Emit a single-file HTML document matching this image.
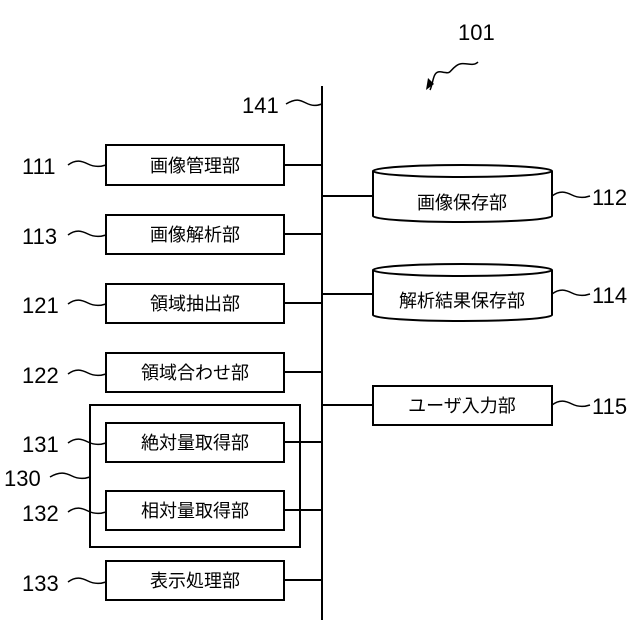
<!DOCTYPE html>
<html><head><meta charset="utf-8"><style>body{margin:0;background:#fff}svg{display:block}</style></head><body>
<svg width="640" height="640" viewBox="0 0 640 640" xmlns="http://www.w3.org/2000/svg">
<g fill="none" stroke="#000" stroke-width="2">
<line x1="322" y1="86" x2="322" y2="620"/>
<rect x="106" y="145" width="178" height="40"/>
<rect x="106" y="215" width="178" height="39"/>
<rect x="106" y="284" width="178" height="39"/>
<rect x="106" y="353" width="178" height="39"/>
<rect x="90" y="405" width="210" height="142"/>
<rect x="106" y="423" width="178" height="39"/>
<rect x="106" y="491" width="178" height="39"/>
<rect x="106" y="561" width="178" height="39"/>
<line x1="284" y1="165" x2="322" y2="165"/>
<line x1="284" y1="234" x2="322" y2="234"/>
<line x1="284" y1="303" x2="322" y2="303"/>
<line x1="284" y1="372" x2="322" y2="372"/>
<line x1="284" y1="442" x2="322" y2="442"/>
<line x1="284" y1="510" x2="322" y2="510"/>
<line x1="284" y1="580" x2="322" y2="580"/>
<line x1="322" y1="196" x2="373" y2="196"/>
<line x1="322" y1="294" x2="373" y2="294"/>
<line x1="322" y1="405" x2="373" y2="405"/>
<path d="M373 171 V216 A89.5 6 0 0 0 552 216 V171"/>
<ellipse cx="462.5" cy="171" rx="89.5" ry="6"/>
<path d="M373 270 V315 A89.5 6 0 0 0 552 315 V270"/>
<ellipse cx="462.5" cy="270" rx="89.5" ry="6"/>
<rect x="373" y="386" width="179" height="39"/>
<g stroke-width="1.5">
<path d="M68 165 c8 -6 14 -4 20 -1 s12 3 18 1"/>
<path d="M68 235 c8 -6 14 -4 20 -1 s12 3 18 1"/>
<path d="M68 304 c8 -6 14 -4 20 -1 s12 3 18 1"/>
<path d="M68 374 c8 -6 14 -4 20 -1 s12 3 18 1"/>
<path d="M68 443 c8 -6 14 -4 20 -1 s12 3 18 1"/>
<path d="M68 512 c8 -6 14 -4 20 -1 s12 3 18 1"/>
<path d="M68 582 c8 -6 14 -4 20 -1 s12 3 18 1"/>
<path d="M50 477 c10 -6 16 -4 22 -1 s12 3 18 1"/>
<path d="M286 104 c10 -6 14 -4 20 -1 s10 3 16 1"/>
<path d="M552 196 c8 -6 14 -4 20 -1 s12 3 18 1"/>
<path d="M552 294 c8 -6 14 -4 20 -1 s12 3 18 1"/>
<path d="M552 405 c8 -6 14 -4 20 -1 s12 3 18 1"/>
<path d="M478 62 c-6 6 -14 -2 -22 4 s-4 8 -14 6 s-8 10 -12 18"/>
</g>
</g>
<path d="M426 90 l2 -12 l6 6 z" fill="#000"/>
<g font-family="Liberation Sans, sans-serif" font-size="22" fill="#000">
<text x="458" y="40">101</text>
<text x="242" y="113">141</text>
<text x="22" y="174">111</text>
<text x="22" y="244">113</text>
<text x="22" y="313">121</text>
<text x="22" y="383">122</text>
<text x="22" y="452">131</text>
<text x="4" y="486">130</text>
<text x="22" y="521">132</text>
<text x="22" y="591">133</text>
<text x="592" y="205">112</text>
<text x="592" y="303">114</text>
<text x="592" y="414">115</text>
</g>
<g font-family="Liberation Sans, Noto Sans CJK JP, sans-serif" font-size="18" fill="#000" text-anchor="middle">
<text x="195" y="172">画像管理部</text>
<text x="195" y="241">画像解析部</text>
<text x="195" y="310">領域抽出部</text>
<text x="195" y="379">領域合わせ部</text>
<text x="195" y="449">絶対量取得部</text>
<text x="195" y="517">相対量取得部</text>
<text x="195" y="587">表示処理部</text>
<text x="462" y="209">画像保存部</text>
<text x="462" y="307">解析結果保存部</text>
<text x="462" y="412">ユーザ入力部</text>
</g>
</svg>
</body></html>
